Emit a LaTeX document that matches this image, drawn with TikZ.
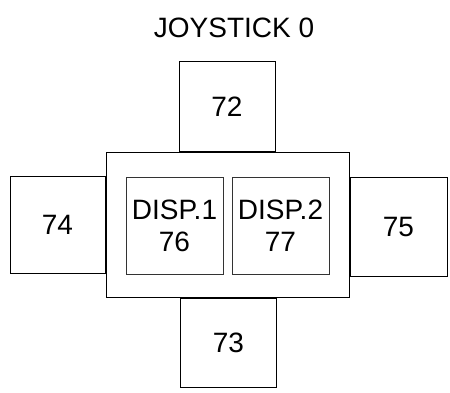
\documentclass[tikz,border=0pt]{standalone}
\usepackage{fontspec}
\setmainfont{Liberation Sans}
\usetikzlibrary{positioning}

\begin{document}
\begin{tikzpicture}[
            x=1pt, y=1pt,
            node distance=0pt,
            block/.style={rectangle, draw=black, line width=1pt, inner sep=0pt, minimum width=96pt, minimum height=94pt, font=\fontsize{28}{32}\selectfont, align=center},
            frame/.style={rectangle, draw=black, line width=1pt, inner sep=0pt, minimum width=243pt, minimum height=144pt},
            dispblock/.style={block, draw=black!80, minimum width=97pt, minimum height=96pt}
        ]
        \useasboundingbox (0,0) rectangle (450,-393);
        \node [font=\fontsize{28}{32}\selectfont] (title) at (234,-28) {JOYSTICK 0};
        \node [frame] (pad) at (227.5,-225) {};
        \node [block, minimum height=90pt, above=of pad, xshift=-0.5pt] (up) {72};
        \node [block, minimum height=89pt, below=of pad, xshift=1pt] (down) {73};
        \node [block, minimum width=95pt, minimum height=97pt, left=of pad] (lft) {74};
        \node [block, minimum width=97pt, minimum height=98pt, right=of pad, yshift=-2pt] (rgt) {75};
        \node [dispblock, left=4pt of pad.center, yshift=-1pt] (disp1) {DISP.1\\76};
        \node [dispblock, right=4pt of pad.center, yshift=-1pt] (disp2) {DISP.2\\77};
    \end{tikzpicture}
\end{document}
